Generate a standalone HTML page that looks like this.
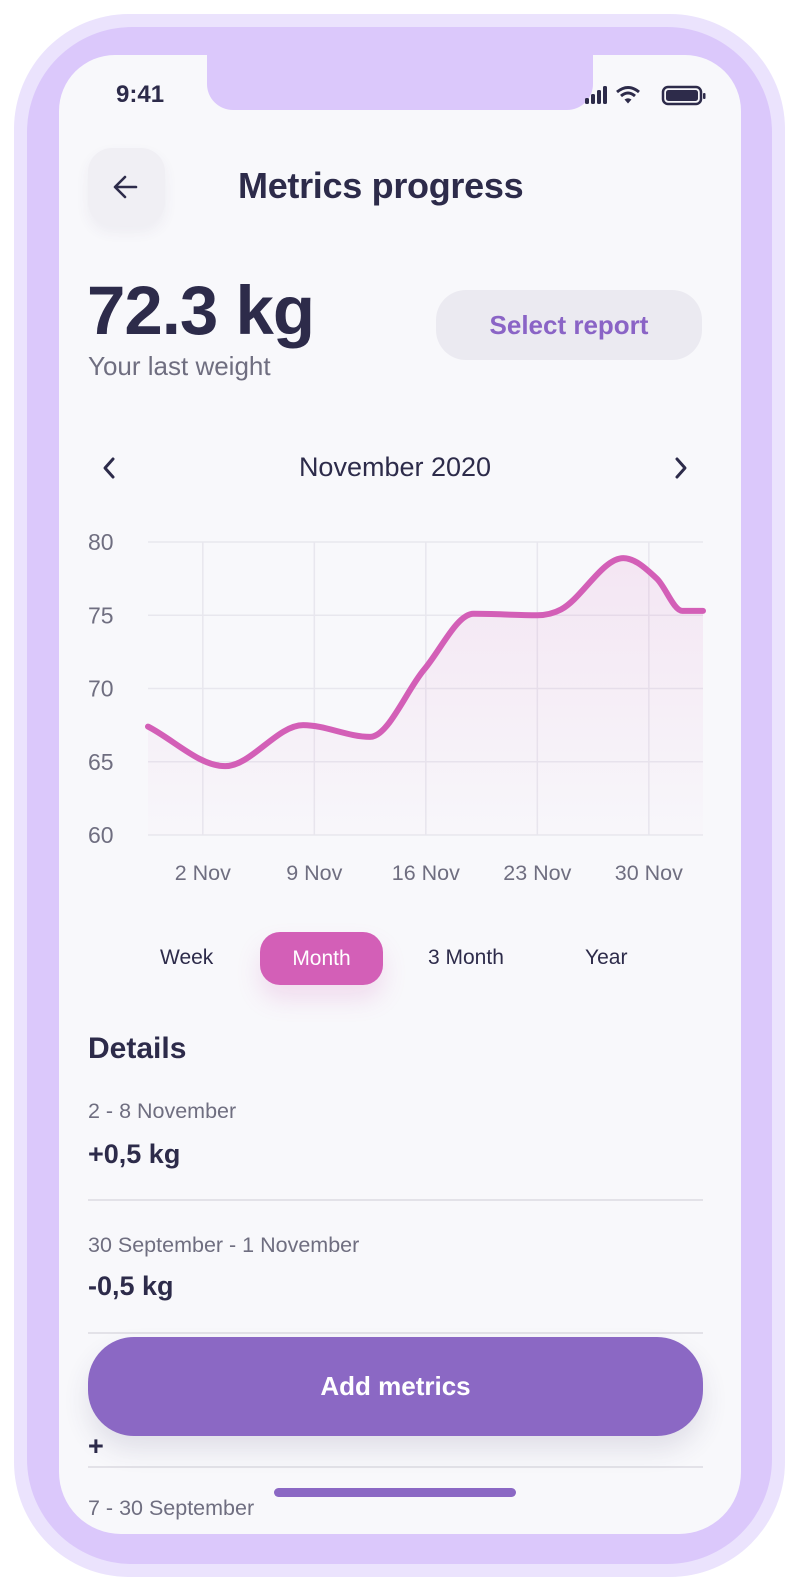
<!DOCTYPE html>
<html><head><meta charset="utf-8">
<style>
*{margin:0;padding:0;box-sizing:border-box}
body{width:799px;height:1591px;background:#fff;position:relative;overflow:hidden;font-family:"Liberation Sans",sans-serif;color:#2d2b4a}
.abs{position:absolute}
#outer{left:14px;top:14px;width:771px;height:1563px;border-radius:115px;background:#ebe3fd}
#inner{left:27px;top:27px;width:745px;height:1537px;border-radius:105px;background:#dbc8fb}
#screen{left:59px;top:55px;width:682px;height:1479px;border-radius:56px 56px 62px 62px;background:#f8f8fb;overflow:hidden}
#notch{left:148px;top:-2px;width:386px;height:57px;background:#dbc8fb;border-radius:0 0 26px 26px}
.t{position:absolute;white-space:nowrap}
.gray{color:#6f6e80}
.sep{position:absolute;left:29px;width:615px;height:2px;background:#e3e2e8}
</style></head><body>
<div id="outer" class="abs"></div>
<div id="inner" class="abs"></div>
<div id="screen" class="abs">
  <div id="notch" class="abs"></div>
  <div class="t" style="left:57px;top:26px;font-size:24px;font-weight:bold">9:41</div>
  <svg class="abs" style="left:524px;top:29px" width="124" height="22">
    <rect x="2" y="14" width="4" height="6" rx="1.5" fill="#2d2b4a"/><rect x="8" y="10" width="4" height="10" rx="1.5" fill="#2d2b4a"/><rect x="14" y="6" width="4" height="14" rx="1.5" fill="#2d2b4a"/><rect x="20" y="2" width="4" height="18" rx="1.5" fill="#2d2b4a"/>
    <path d="M34 8 Q45 -1 56 8" stroke="#2d2b4a" stroke-width="3" fill="none"/><path d="M38 12 Q45 6 52 12" stroke="#2d2b4a" stroke-width="3" fill="none"/><path d="M41.5 15.5 L45 19.5 L48.5 15.5 Q45 13 41.5 15.5Z" fill="#2d2b4a"/>
    <rect x="80" y="3" width="38" height="17" rx="5" stroke="#2d2b4a" stroke-width="2.5" fill="none"/><rect x="83" y="6" width="32" height="11" rx="2.5" fill="#2d2b4a"/><rect x="120" y="9" width="2.5" height="6" rx="1" fill="#2d2b4a"/>
  </svg>
  <div class="abs" style="left:29px;top:93px;width:77px;height:78px;border-radius:24px;background:#f0eff4;box-shadow:0 6px 14px rgba(60,50,100,.06)">
    <svg width="77" height="78"><path d="M48 39H28M37 29L27 39L37 49" stroke="#2d2b4a" stroke-width="2.6" fill="none" stroke-linecap="round" stroke-linejoin="round"/></svg>
  </div>
  <div class="t" style="left:179px;top:110px;font-size:36px;font-weight:bold;letter-spacing:-0.3px">Metrics progress</div>
  <div class="t" style="left:28px;top:216px;font-size:69px;font-weight:bold;letter-spacing:-1px">72.3 kg</div>
  <div class="t gray" style="left:29px;top:296px;font-size:26px">Your last weight</div>
  <div class="abs" style="left:377px;top:235px;width:266px;height:70px;border-radius:30px;background:#ebeaf1;color:#8a64c6;font-size:26px;font-weight:bold;text-align:center;line-height:70px">Select report</div>
  <svg class="abs" style="left:40px;top:400px" width="20" height="26"><path d="M14 4L6 13L14 22" stroke="#2d2b4a" stroke-width="3" fill="none" stroke-linecap="round" stroke-linejoin="round"/></svg>
  <div class="t" style="left:0;width:672px;text-align:center;top:397px;font-size:27px">November 2020</div>
  <svg class="abs" style="left:612px;top:400px" width="20" height="26"><path d="M6 4L14 13L6 22" stroke="#2d2b4a" stroke-width="3" fill="none" stroke-linecap="round" stroke-linejoin="round"/></svg>
  <div class="abs" style="left:201px;top:877px;width:123px;height:53px;border-radius:20px;background:#d35fb7;color:#fff;font-size:21px;text-align:center;line-height:53px;box-shadow:0 14px 24px rgba(211,95,183,.18)">Month</div>
  <div class="t" style="left:101px;top:891px;font-size:21px">Week</div>
  <div class="t" style="left:369px;top:891px;font-size:21px">3 Month</div>
  <div class="t" style="left:526px;top:891px;font-size:21px">Year</div>
  <div class="t" style="left:29px;top:977px;font-size:30px;font-weight:bold">Details</div>
  <div class="t gray" style="left:29px;top:1044px;font-size:21.5px">2 - 8 November</div>
  <div class="t" style="left:29px;top:1084px;font-size:27px;font-weight:bold">+0,5 kg</div>
  <div class="sep" style="top:1144px"></div>
  <div class="t gray" style="left:29px;top:1178px;font-size:21.5px">30 September - 1 November</div>
  <div class="t" style="left:29px;top:1216px;font-size:27px;font-weight:bold">-0,5 kg</div>
  <div class="sep" style="top:1277px"></div>
  <div class="t" style="left:29px;top:1376px;font-size:27px;font-weight:bold">+</div>
  <div class="sep" style="top:1411px"></div>
  <div class="t gray" style="left:29px;top:1441px;font-size:21.5px">7 - 30 September</div>
  <div class="abs" style="left:29px;top:1282px;width:615px;height:99px;border-radius:46px;background:#8b68c4;color:#fff;font-size:26px;font-weight:bold;text-align:center;line-height:99px;box-shadow:0 14px 26px rgba(60,50,100,.12)">Add metrics</div>
  <div class="abs" style="left:215px;top:1433px;width:242px;height:9px;border-radius:5px;background:#8b68c4"></div>
</div>
<svg id="chart" class="abs" style="left:0;top:0" width="799" height="900">
  <defs><linearGradient id="fillg" x1="0" y1="0" x2="0" y2="1"><stop offset="0" stop-color="#d35fb7" stop-opacity="0.12"/><stop offset="1" stop-color="#d35fb7" stop-opacity="0.01"/></linearGradient></defs>
</svg>
<script>
const days=[-1.44,3.4,8.3,12.5,15.9,19.0,23.0,24.5,28.4,30.5,32.1,33.4];
const weights=[67.4,64.7,67.5,66.7,71.3,75.1,75.0,75.4,78.9,77.5,75.3,75.3];
const yTicks=[60,65,70,75,80];
const xTickDays=[2,9,16,23,30];
const xTickLabels=["2 Nov","9 Nov","16 Nov","23  Nov","30 Nov"];
const NS="http://www.w3.org/2000/svg";
const svg=document.getElementById('chart');
const X0=148,X1=703,Y0=835,Y1=542,D0=-1.44,D1=33.4;
const sx=d=>X0+(d-D0)/(D1-D0)*(X1-X0);
const sy=v=>Y0-(v-60)/20*(Y0-Y1);
function mk(tag,attrs){const e=document.createElementNS(NS,tag);for(const k in attrs)e.setAttribute(k,attrs[k]);svg.appendChild(e);return e;}
yTicks.forEach(v=>{
  const l=mk('line',{x1:X0,x2:X1,y1:sy(v),y2:sy(v),stroke:'#e8e7ee','stroke-width':1.5});
  
  
  const t=mk('text',{x:88,y:sy(v)+8,'font-size':23,fill:'#6f6e80','font-family':'Liberation Sans'});
  t.textContent=v;
  
  
});
xTickDays.forEach((d,i)=>{
  const l=mk('line',{x1:sx(d),x2:sx(d),y1:Y1,y2:Y0,stroke:'#e8e7ee','stroke-width':1.5});
  
  
  const t=mk('text',{x:sx(d),y:880,'font-size':21.5,fill:'#6f6e80','text-anchor':'middle','font-family':'Liberation Sans','xml:space':'preserve'});
  t.textContent=xTickLabels[i];
  
  
});
const P=days.map((d,i)=>[sx(d),sy(weights[i])]);
const n=P.length,m=[],dl=[];
for(let i=0;i<n-1;i++)dl.push((P[i+1][1]-P[i][1])/(P[i+1][0]-P[i][0]));
for(let i=0;i<n;i++){
  if(i===0)m.push(dl[0]);else if(i===n-1)m.push(dl[n-2]);
  else m.push(dl[i-1]*dl[i]<=0?0:(dl[i-1]+dl[i])/2);
}
let d='M'+P[0][0]+','+P[0][1];
for(let i=0;i<n-1;i++){
  const h=(P[i+1][0]-P[i][0])/3;
  d+=' C'+(P[i][0]+h)+','+(P[i][1]+m[i]*h)+' '+(P[i+1][0]-h)+','+(P[i+1][1]-m[i+1]*h)+' '+P[i+1][0]+','+P[i+1][1];
}
const area=mk('path',{d:d+' L'+P[n-1][0]+','+Y0+' L'+P[0][0]+','+Y0+' Z',fill:'url(#fillg)'});


const line=mk('path',{d:d,fill:'none',stroke:'#d35fb7','stroke-width':6,'stroke-linecap':'round'});


</script>
</body></html>
